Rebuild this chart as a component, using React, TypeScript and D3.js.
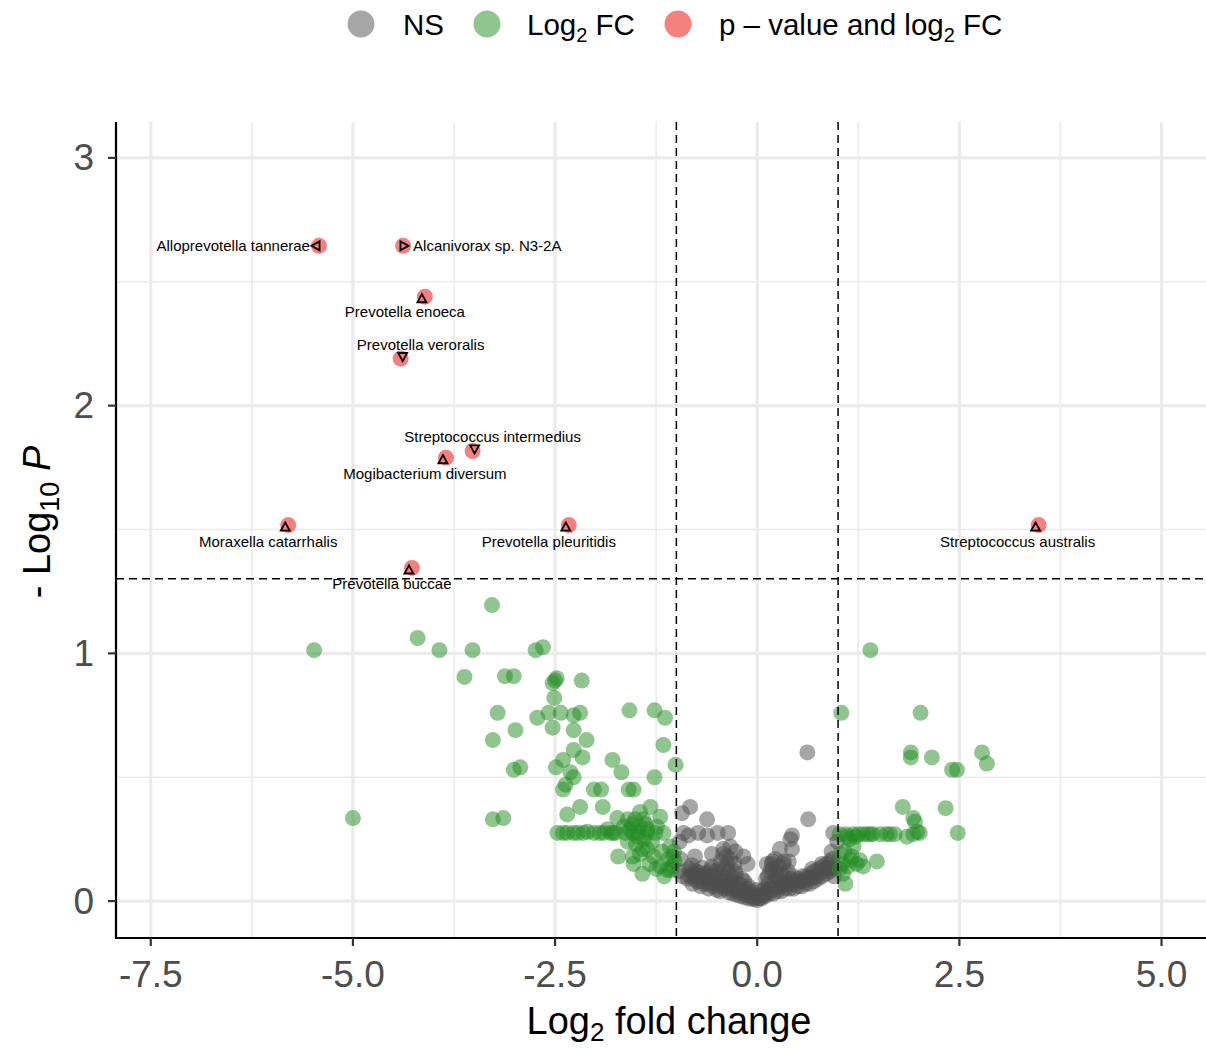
import React from "react";
import * as d3 from "d3";

// ---------- DATA ----------
// Non-significant points: [log2FC, -log10 P]
const nsPoints: [number, number][] = [
  [0.62, 0.6], [0.63, 0.33],
  [-0.83, 0.38], [-0.93, 0.355], [-0.62, 0.33], [-0.91, 0.275], [-0.85, 0.265], [-0.73, 0.275],
  [-0.62, 0.265], [-0.49, 0.275], [-0.36, 0.275], [-0.96, 0.24],
  [-0.77, 0.18], [-0.56, 0.19], [-0.42, 0.21], [-0.33, 0.22], [-0.17, 0.18], [-0.12, 0.15],
  [-0.38, 0.18], [-0.27, 0.2],
  [0.43, 0.265], [0.41, 0.25], [0.28, 0.21], [0.43, 0.21], [0.94, 0.275], [0.99, 0.24], [0.92, 0.2],
  [0.12, 0.15], [0.19, 0.16], [0.32, 0.15], [0.68, 0.13], [0.8, 0.15], [0.9, 0.16],
  [-0.97, 0.12], [-0.95, 0.17], [-0.92, 0.1],
  [-0.86, 0.09], [-0.84, 0.13], [-0.8, 0.07], [-0.79, 0.11], [-0.81, 0.145], [-0.74, 0.08],
  [-0.76, 0.12], [-0.7, 0.06], [-0.71, 0.1], [-0.68, 0.135], [-0.66, 0.07], [-0.64, 0.11],
  [-0.6, 0.05], [-0.61, 0.09], [-0.58, 0.125], [-0.55, 0.06], [-0.54, 0.1], [-0.56, 0.14],
  [-0.5, 0.045], [-0.49, 0.08], [-0.51, 0.12], [-0.46, 0.04], [-0.44, 0.09], [-0.45, 0.16],
  [-0.4, 0.05], [-0.41, 0.08], [-0.39, 0.13], [-0.42, 0.19], [-0.35, 0.035], [-0.34, 0.07],
  [-0.36, 0.12], [-0.33, 0.17], [-0.3, 0.03], [-0.29, 0.06], [-0.31, 0.1], [-0.28, 0.15],
  [-0.25, 0.025], [-0.24, 0.07], [-0.26, 0.11], [-0.2, 0.02], [-0.21, 0.05], [-0.19, 0.09],
  [-0.15, 0.015], [-0.14, 0.04], [-0.16, 0.08], [-0.1, 0.01], [-0.09, 0.035], [-0.11, 0.06],
  [-0.05, 0.008], [-0.04, 0.03], [0, 0.004], [0.01, 0.02], [-0.01, 0.045],
  [0.05, 0.01], [0.06, 0.04], [0.1, 0.02], [0.09, 0.05], [0.11, 0.09], [0.15, 0.03],
  [0.14, 0.07], [0.16, 0.12], [0.2, 0.03], [0.21, 0.08], [0.19, 0.13], [0.22, 0.17],
  [0.25, 0.04], [0.26, 0.08], [0.24, 0.12], [0.3, 0.04], [0.31, 0.07], [0.29, 0.11],
  [0.33, 0.16], [0.35, 0.05], [0.36, 0.08], [0.38, 0.12], [0.4, 0.05], [0.41, 0.09],
  [0.45, 0.05], [0.46, 0.08], [0.5, 0.06], [0.51, 0.09], [0.55, 0.06], [0.56, 0.1],
  [0.6, 0.07], [0.61, 0.1], [0.65, 0.07], [0.66, 0.11], [0.7, 0.08], [0.71, 0.12],
  [0.75, 0.09], [0.76, 0.13], [0.8, 0.1], [0.81, 0.14], [0.85, 0.11], [0.86, 0.15],
  [0.9, 0.12], [0.95, 0.1], [0.96, 0.14], [0.93, 0.17],
  [-0.83, 0.1], [-0.78, 0.09], [-0.73, 0.1], [-0.69, 0.08], [-0.63, 0.09], [-0.59, 0.07],
  [-0.53, 0.08], [-0.48, 0.06], [-0.43, 0.065], [-0.38, 0.06], [-0.33, 0.05], [-0.27, 0.045],
  [-0.23, 0.04], [-0.18, 0.035], [-0.13, 0.025], [-0.07, 0.02], [-0.03, 0.012], [0.03, 0.012],
  [0.07, 0.025], [0.12, 0.035], [0.17, 0.05], [0.23, 0.055], [0.28, 0.06], [0.33, 0.065],
  [0.38, 0.07], [0.43, 0.07], [0.48, 0.075], [0.53, 0.08], [0.58, 0.085], [0.63, 0.09],
  [0.68, 0.095], [0.73, 0.1], [0.78, 0.115], [0.83, 0.125], [0.88, 0.135], [0.92, 0.13],
  [-0.82, 0.12], [-0.72, 0.115], [-0.62, 0.1], [-0.52, 0.1], [-0.42, 0.1], [-0.32, 0.085],
  [-0.22, 0.07], [-0.12, 0.05], [0.13, 0.1], [0.23, 0.1], [0.34, 0.1], [0.44, 0.1],
  [-0.47, 0.13], [-0.37, 0.15], [-0.28, 0.12], [0.18, 0.15], [0.27, 0.14], [0.39, 0.16],
];

// Log2 FC only points
const fcPoints: [number, number][] = [
  [-5.48, 1.013], [-4.2, 1.062], [-3.93, 1.013], [-3.52, 1.013], [-3.28, 1.195], [-2.74, 1.013], [-2.65, 1.025],
  [-3.62, 0.905], [-3.12, 0.908], [-3.01, 0.908], [-2.53, 0.88], [-2.48, 0.9], [-2.5, 0.89], [-2.17, 0.89],
  [-2.51, 0.82], [-3.21, 0.76], [-2.72, 0.74], [-2.58, 0.76], [-2.43, 0.76], [-2.53, 0.7], [-2.27, 0.75],
  [-2.19, 0.76], [-2.27, 0.69], [-1.58, 0.77], [-1.27, 0.77], [-1.14, 0.74], [-3.27, 0.65], [-2.99, 0.69],
  [-2.11, 0.65], [-1.16, 0.63], [-2.27, 0.61], [-2.16, 0.58], [-2.4, 0.57], [-2.49, 0.54], [-2.31, 0.52],
  [-2.27, 0.5], [-2.4, 0.45], [-2.37, 0.47], [-3.01, 0.53], [-2.93, 0.54], [-1.79, 0.57], [-1.68, 0.52],
  [-1.01, 0.55], [-1.27, 0.5], [-2.02, 0.45], [-1.93, 0.45], [-1.59, 0.45], [-1.53, 0.45],
  [-3.27, 0.33], [-3.14, 0.335], [-5.0, 0.335], [-2.19, 0.38], [-1.91, 0.38], [-2.35, 0.35],
  [-2.47, 0.275], [-2.4, 0.275], [-2.35, 0.275], [-2.27, 0.275], [-2.22, 0.275], [-2.15, 0.275],
  [-2.02, 0.275], [-1.95, 0.275], [-1.9, 0.275], [-1.81, 0.275], [-1.78, 0.275], [-1.75, 0.275],
  [-1.63, 0.275], [-1.54, 0.275], [-1.47, 0.275], [-1.36, 0.275], [-1.26, 0.275], [-1.16, 0.275],
  [-1.73, 0.335], [-1.6, 0.33], [-1.51, 0.33], [-1.41, 0.33], [-1.32, 0.38], [-1.2, 0.34],
  [-1.45, 0.36], [-1.38, 0.31], [-1.57, 0.29], [-1.48, 0.26], [-1.36, 0.29], [-1.5, 0.23],
  [-1.42, 0.21], [-1.6, 0.24], [-1.72, 0.18], [-1.54, 0.18], [-1.53, 0.15], [-1.42, 0.11],
  [-1.36, 0.21], [-1.28, 0.18], [-1.2, 0.14], [-1.11, 0.125], [-1.04, 0.18], [-1.07, 0.125], [-1.02, 0.16],
  [-1.55, 0.31], [-1.46, 0.3], [-1.4, 0.25], [-1.3, 0.24], [-1.24, 0.3], [-1.18, 0.2],
  [-1.1, 0.17], [-1.05, 0.14], [-1.15, 0.1], [-1.25, 0.13], [-1.33, 0.15], [-1.45, 0.19],
  [-1.03, 0.2], [-1.08, 0.22], [-1.65, 0.3], [-2.1, 0.28], [-1.85, 0.29],
  [1.4, 1.013], [1.04, 0.76], [2.02, 0.76], [1.9, 0.6], [1.9, 0.58], [2.16, 0.58], [2.78, 0.6],
  [2.84, 0.555], [2.41, 0.53], [2.47, 0.53], [1.8, 0.38], [2.33, 0.375], [1.93, 0.335], [1.95, 0.32],
  [1.98, 0.28], [2.01, 0.275], [1.85, 0.26], [2.48, 0.275],
  [1.02, 0.27], [1.1, 0.27], [1.19, 0.27], [1.25, 0.27], [1.31, 0.27], [1.36, 0.27], [1.4, 0.27],
  [1.43, 0.27], [1.52, 0.27], [1.6, 0.27], [1.64, 0.27], [1.7, 0.27],
  [1.19, 0.22], [1.11, 0.26], [1.15, 0.165], [1.23, 0.15], [1.31, 0.14], [1.48, 0.16], [1.27, 0.165],
  [1.06, 0.11], [1.09, 0.07], [1.03, 0.19], [1.02, 0.13],
  [1.05, 0.15], [1.12, 0.14], [1.17, 0.18], [1.08, 0.2], [1.14, 0.25], [1.22, 0.26], [1.93, 0.27],
];

// Significant points (p-value and log2 FC)
const sigLabels = [
  "Alloprevotella tannerae", "Alcanivorax sp. N3-2A", "Prevotella enoeca", "Prevotella veroralis",
  "Streptococcus intermedius", "Mogibacterium diversum", "Moraxella catarrhalis",
  "Prevotella pleuritidis", "Prevotella buccae", "Streptococcus australis",
];
const sigFC = [-5.42, -4.38, -4.11, -4.41, -3.52, -3.85, -5.8, -2.33, -4.27, 3.48];
const sigP = [2.645, 2.645, 2.44, 2.19, 1.817, 1.79, 1.518, 1.518, 1.345, 1.518];

const xTicks = [-7.5, -5.0, -2.5, 0.0, 2.5, 5.0];
const xMinor = [-6.25, -3.75, -1.25, 1.25, 3.75];
const yTicks = [0, 1, 2, 3];
const yMinor = [0.5, 1.5, 2.5];
const fcCutoff = 1;
const pCutoff = 0.05;

// ---------- LAYOUT (label placement, px) ----------
const labelPlace: { dx: number; dy: number; anchor: string; arrow: string; ax: number; ay: number }[] = [
  { dx: -9, dy: 0, anchor: "end", arrow: "left", ax: -3, ay: 0 },
  { dx: 10, dy: 0, anchor: "start", arrow: "right", ax: 1, ay: 0 },
  { dx: -20, dy: 15, anchor: "middle", arrow: "up", ax: -3, ay: 2 },
  { dx: 20, dy: -14, anchor: "middle", arrow: "down", ax: 2, ay: -2 },
  { dx: 20, dy: -14, anchor: "middle", arrow: "down", ax: 2, ay: -2 },
  { dx: -21, dy: 16, anchor: "middle", arrow: "up", ax: -3, ay: 2 },
  { dx: -20, dy: 16, anchor: "middle", arrow: "up", ax: -3, ay: 2 },
  { dx: -20, dy: 16, anchor: "middle", arrow: "up", ax: -3, ay: 2 },
  { dx: -20, dy: 16, anchor: "middle", arrow: "up", ax: -3, ay: 2 },
  { dx: -21, dy: 16, anchor: "middle", arrow: "up", ax: -3, ay: 2 },
];

const W = 1206;
const H = 1049;
const PL = 116, PR = 1206, PT = 122, PB = 938;
const FONT = "'Liberation Sans', Arial, Helvetica, sans-serif";
const GREY = "#4D4D4D";
const GREEN = "#228B22";
const RED = "#EE0000";

function arrowPath(cx: number, cy: number, dir: string) {
  const s = 4.5;
  if (dir === "left") return `M${cx - s},${cy} L${cx + s * 0.8},${cy - s} L${cx + s * 0.8},${cy + s} Z`;
  if (dir === "right") return `M${cx + s},${cy} L${cx - s * 0.8},${cy - s} L${cx - s * 0.8},${cy + s} Z`;
  if (dir === "up") return `M${cx},${cy - s} L${cx - s},${cy + s * 0.8} L${cx + s},${cy + s * 0.8} Z`;
  return `M${cx},${cy + s} L${cx - s},${cy - s * 0.8} L${cx + s},${cy - s * 0.8} Z`;
}

export default function App() {
  const x = d3.scaleLinear().domain([-7.93, 5.55]).range([PL, PR]);
  const y = d3.scaleLinear().domain([-0.149, 3.145]).range([PB, PT]);
  const pLine = -Math.log10(pCutoff);
  const r = 8;
  const fmt = d3.format(".1f");

  return (
    <div style={{ position: "absolute", left: 0, top: 0 }}>
      <svg width={W} height={H} viewBox={`0 0 ${W} ${H}`} style={{ display: "block", background: "#fff" }} fontFamily={FONT}>
        {/* grid */}
        <g>
          {xMinor.map((v) => (
            <line key={"xm" + v} x1={x(v)} x2={x(v)} y1={PT} y2={PB} stroke="#EBEBEB" strokeWidth={1.6} />
          ))}
          {yMinor.map((v) => (
            <line key={"ym" + v} x1={PL} x2={PR} y1={y(v)} y2={y(v)} stroke="#EBEBEB" strokeWidth={1.6} />
          ))}
          {xTicks.map((v) => (
            <line key={"xg" + v} x1={x(v)} x2={x(v)} y1={PT} y2={PB} stroke="#EBEBEB" strokeWidth={3.2} />
          ))}
          {yTicks.map((v) => (
            <line key={"yg" + v} x1={PL} x2={PR} y1={y(v)} y2={y(v)} stroke="#EBEBEB" strokeWidth={3.2} />
          ))}
        </g>

        {/* points */}
        <g>
          {nsPoints.map((p, i) => (
            <circle key={"ns" + i} cx={x(p[0])} cy={y(p[1])} r={r} fill={GREY} fillOpacity={0.5} />
          ))}
          {fcPoints.map((p, i) => (
            <circle key={"fc" + i} cx={x(p[0])} cy={y(p[1])} r={r} fill={GREEN} fillOpacity={0.5} />
          ))}
          {sigFC.map((v, i) => (
            <circle key={"sg" + i} cx={x(v)} cy={y(sigP[i])} r={r} fill={RED} fillOpacity={0.5} />
          ))}
        </g>

        {/* threshold lines */}
        <g stroke="#000" strokeWidth={1.5} strokeDasharray="8,5" fill="none">
          <line x1={x(-fcCutoff)} x2={x(-fcCutoff)} y1={PT} y2={PB} />
          <line x1={x(fcCutoff)} x2={x(fcCutoff)} y1={PT} y2={PB} />
          <line x1={PL} x2={PR} y1={y(pLine)} y2={y(pLine)} />
        </g>

        {/* labels */}
        <g>
          {sigLabels.map((lab, i) => {
            const px = x(sigFC[i]);
            const py = y(sigP[i]);
            const lp = labelPlace[i];
            return (
              <g key={"lab" + i}>
                <path d={arrowPath(px + lp.ax, py + lp.ay, lp.arrow)} fill="none" stroke="#000" strokeWidth={1.8} strokeLinejoin="miter" />
                <text x={px + lp.dx} y={py + lp.dy} textAnchor={lp.anchor} dominantBaseline="central" fontSize={15} fill="#000">
                  {lab}
                </text>
              </g>
            );
          })}
        </g>

        {/* axes */}
        <line x1={PL} x2={PL} y1={PT} y2={PB + 1} stroke="#000" strokeWidth={2.2} />
        <line x1={PL - 1} x2={PR} y1={PB} y2={PB} stroke="#000" strokeWidth={2.2} />
        {xTicks.map((v) => (
          <g key={"xt" + v}>
            <line x1={x(v)} x2={x(v)} y1={PB} y2={PB + 8} stroke="#333" strokeWidth={2.2} />
            <text x={x(v)} y={PB + 49} textAnchor="middle" fontSize={37} fill="#4D4D4D">
              {fmt(v).replace("\u2212", "-")}
            </text>
          </g>
        ))}
        {yTicks.map((v) => (
          <g key={"yt" + v}>
            <line x1={PL - 8} x2={PL} y1={y(v)} y2={y(v)} stroke="#333" strokeWidth={2.2} />
            <text x={PL - 22} y={y(v)} textAnchor="end" dominantBaseline="central" fontSize={37} fill="#4D4D4D">
              {String(v)}
            </text>
          </g>
        ))}

        {/* axis titles */}
        <text x={669} y={1034} textAnchor="middle" fontSize={38} fill="#000">
          <tspan>Log</tspan>
          <tspan fontSize={26} dy={7}>2</tspan>
          <tspan dy={-7}> fold change</tspan>
        </text>
        <text transform={`translate(50,522) rotate(-90)`} textAnchor="middle" fontSize={38} fill="#000">
          <tspan>- Log</tspan>
          <tspan fontSize={27} dy={9}>10</tspan>
          <tspan dy={-9}> </tspan>
          <tspan fontStyle="italic">P</tspan>
        </text>

        {/* legend */}
        <g fontSize={29.5} fill="#000">
          <circle cx={361} cy={24} r={13.5} fill={GREY} fillOpacity={0.5} />
          <text x={403} y={35}>NS</text>
          <circle cx={487} cy={24} r={13.5} fill={GREEN} fillOpacity={0.5} />
          <text x={527} y={35}>
            <tspan>Log</tspan>
            <tspan fontSize={20} dy={7}>2</tspan>
            <tspan dy={-7}> FC</tspan>
          </text>
          <circle cx={678} cy={24} r={13.5} fill={RED} fillOpacity={0.5} />
          <text x={719} y={35}>
            <tspan>p – value and log</tspan>
            <tspan fontSize={20} dy={7}>2</tspan>
            <tspan dy={-7}> FC</tspan>
          </text>
        </g>
      </svg>
    </div>
  );
}
